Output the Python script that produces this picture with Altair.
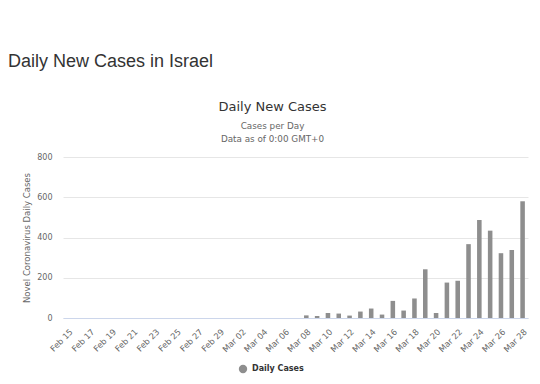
import altair as alt
import pandas as pd

dates = ["Feb 15", "Feb 16", "Feb 17", "Feb 18", "Feb 19", "Feb 20", "Feb 21", "Feb 22",
         "Feb 23", "Feb 24", "Feb 25", "Feb 26", "Feb 27", "Feb 28", "Feb 29",
         "Mar 01", "Mar 02", "Mar 03", "Mar 04", "Mar 05", "Mar 06", "Mar 07", "Mar 08",
         "Mar 09", "Mar 10", "Mar 11", "Mar 12", "Mar 13", "Mar 14", "Mar 15", "Mar 16",
         "Mar 17", "Mar 18", "Mar 19", "Mar 20", "Mar 21", "Mar 22", "Mar 23", "Mar 24",
         "Mar 25", "Mar 26", "Mar 27", "Mar 28"]
cases = [0, 0, 0, 0, 0, 0, 0, 0,
         0, 0, 0, 0, 0, 0, 0,
         0, 0, 0, 0, 0, 0, 0, 13,
         10, 25, 22, 12, 32, 47, 17, 85,
         37, 97, 242, 25, 176, 185, 367, 487,
         434, 322, 338, 580]
tick_labels = dates[::2]
series_name = "Daily Cases"
y_ticks = [0, 200, 400, 600, 800]
page_title = "Daily New Cases in Israel"
chart_title = "Daily New Cases"
subtitle_lines = ["Cases per Day", "Data as of 0:00 GMT+0"]

df = pd.DataFrame({"date": dates, "cases": cases, "series": series_name})

bars = alt.Chart(df).mark_bar(color="#8e8e8e").encode(
    x=alt.X("date:N", sort=dates, title=None,
            scale=alt.Scale(paddingInner=0.58, paddingOuter=0.29),
            axis=alt.Axis(values=tick_labels, labelAngle=-45, labelAlign="right",
                          labelBaseline="top", labelFont="DejaVu Sans", labelFontSize=8.3,
                          labelColor="#666666", ticks=False, grid=False,
                          domainColor="#ccd6eb", domainWidth=1, labelPadding=9)),
    y=alt.Y("cases:Q", title="Novel Coronavirus Daily Cases",
            scale=alt.Scale(domain=[0, 800], nice=False),
            axis=alt.Axis(values=y_ticks, domain=False, ticks=False, gridColor="#e6e6e6",
                          labelFont="DejaVu Sans", labelFontSize=8, labelColor="#666666",
                          labelPadding=11, titleFont="DejaVu Sans", titleFontSize=8.5,
                          titleFontWeight="normal", titleColor="#666666", titlePadding=5)),
    color=alt.Color("series:N", scale=alt.Scale(range=["#8e8e8e"]),
                    legend=alt.Legend(title=None, orient="none", legendX=175, legendY=207,
                                      symbolType="circle", symbolSize=70,
                                      labelFont="DejaVu Sans", labelFontSize=8,
                                      labelFontWeight="bold", labelColor="#333333")),
)


def label(txt, x, y, size, color, align="center", font="DejaVu Sans"):
    return alt.Chart(pd.DataFrame({"t": [txt]})).mark_text(
        align=align, baseline="alphabetic", fontSize=size, font=font, color=color
    ).encode(x=alt.value(x), y=alt.value(y), text="t:N")


header = label(page_title, -55, -90, 18, "#333333", align="left", font="Liberation Sans")
t1 = label(chart_title, 209.5, -46.5, 13, "#333333")
s1 = label(subtitle_lines[0], 209.5, -28.5, 8.8, "#666666")
s2 = label(subtitle_lines[1], 209.5, -15.5, 8.8, "#666666")

chart = alt.layer(bars, header, t1, s1, s2).properties(
    width=465, height=161,
    autosize=alt.AutoSizeParams(type="none"),
    padding={"left": 55, "top": 149, "right": 4, "bottom": 58},
).configure_view(stroke=None)

chart.save("out.html", embed_options={"renderer": "svg", "actions": False})
